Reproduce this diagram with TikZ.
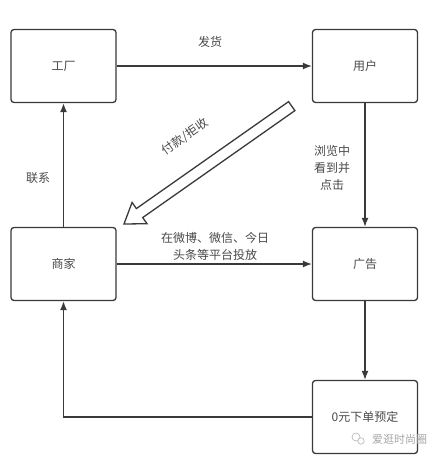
\documentclass[tikz,border=0pt]{standalone}
\usepackage{fontspec}
\setmainfont{Noto Sans CJK SC}
\usetikzlibrary{arrows.meta}
\definecolor{linec}{HTML}{3A3A3A}
\definecolor{textc}{HTML}{4A4A4A}
\begin{document}
\begin{tikzpicture}[x=1pt,y=-1pt,
  box/.style={draw=linec, line width=1.3pt, rounded corners=3pt, minimum width=105pt, minimum height=73pt, font=\fontsize{12}{14}\selectfont, text=textc, inner sep=0pt},
  conn/.style={draw=linec, line width=1.4pt, -{Latex[length=9pt,width=7pt]}},
  lbl/.style={text=textc, font=\fontsize{12}{17}\selectfont, align=center, inner sep=0pt},
  wm/.style={text=gray!70, font=\fontsize{11}{13}\selectfont, inner sep=0pt}]
\useasboundingbox[fill=white] (0,0) rectangle (442,460);
\node[box] (f) at (63.5,66) {工厂};
\node[box] (u) at (365,66) {用户};
\node[box] (m) at (63.5,264) {商家};
\node[box] (a) at (365,264) {广告};
\node[box] (o) at (365,417) {0元下单预定};
% connectors
\draw[conn] (f) -- (u);
\node[lbl] (l1) at (210,42) {发货};
\draw[conn] (u) -- (a);
\node[lbl] (l2) at (332,168) {浏览中\\看到并\\点击};
\draw[conn] (m) -- (f);
\node[lbl] (l3) at (38,178) {联系};
\draw[conn] (m) -- (a);
\node[lbl] (l4) at (215,246) {在微博、微信、今日\\头条等平台投放};
\draw[conn] (a) -- (o);
\draw[conn] (o.west) -| (m.south);
% big hollow arrow
\begin{scope}[shift={(124,224)}, rotate=35.1]
  \draw[linec, line width=1.3pt, fill=white, line join=miter]
    (0,0) -- (19,13) -- (19,5.5) -- (205,5.5) -- (205,-5.5) -- (19,-5.5) -- (19,-13) -- cycle;
\end{scope}
\node[lbl, rotate=35.1] (l5) at (185,137) {付款/拒收};
% watermark
\draw[gray!60, line width=0.6pt] (356,437) circle (4pt);
\draw[gray!60, line width=0.6pt, fill=white] (361,441) circle (3.2pt);
\node[wm, anchor=west] (w) at (372,439) {爱逛时尚圈};
\end{tikzpicture}
\end{document}
